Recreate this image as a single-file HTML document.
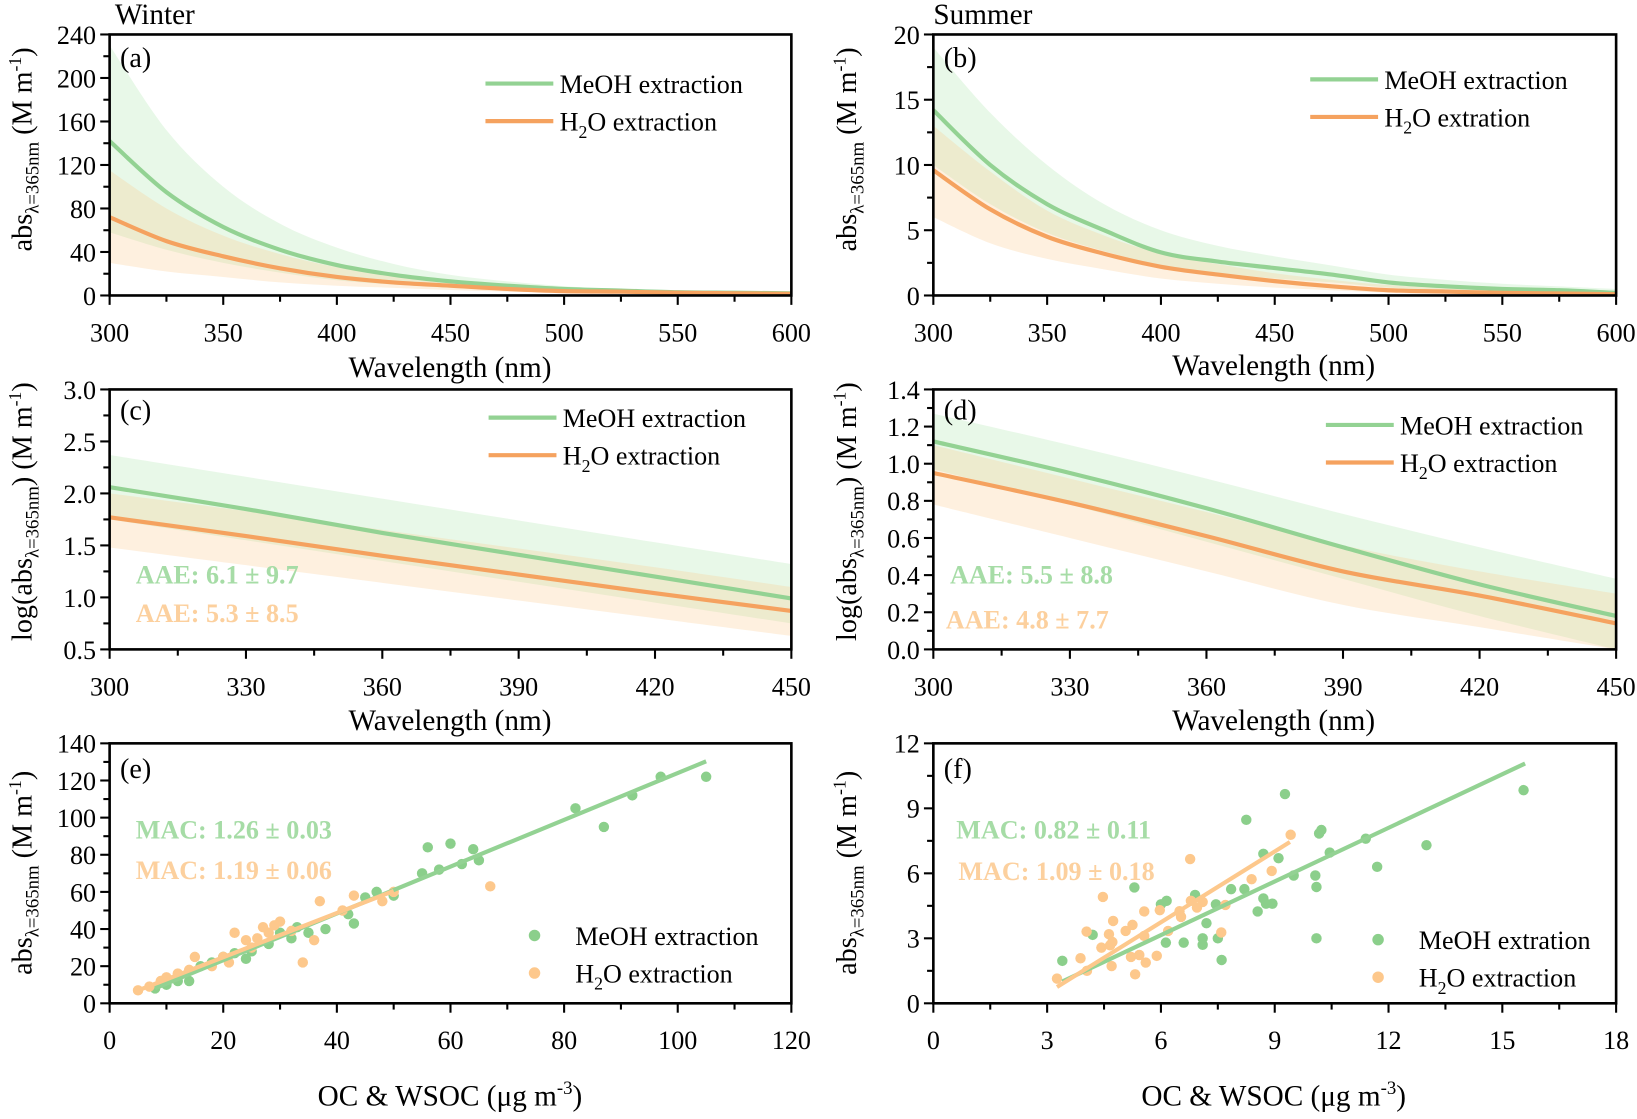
<!DOCTYPE html>
<html><head><meta charset="utf-8">
<style>
html,body{margin:0;padding:0;background:#fff;}
svg, svg text{font-family:"Liberation Serif","Times New Roman",serif;}
</style></head>
<body>
<svg id="fig" width="1637" height="1114" viewBox="0 0 1568 1067" font-family="Liberation Serif, serif" xmlns="http://www.w3.org/2000/svg"></svg>
<script>
// ---- data ----
const wlA = [300,325,350,375,400,425,450,475,500,525,550,575,600];
const aMeoh = [142,95,63,42,28,19,13,9,6,4.5,3,2.5,2];
const aMeohHi = [230,152,100,66,44,29,19,13,8.5,6,4,3,2.5];
const aMeohLo = [58,42,30,21,14,10,7,5,3.5,2.5,2,1.5,1];
const aH2o = [72,50,36,25,17,12,9,6,4,3.5,2.5,2,1.5];
const aH2oHi = [115,80,55,38,26,18,13,9,6,4.5,3.5,3,2.5];
const aH2oLo = [30,22,17,12,9,7,5,3.5,2.5,2,1.5,1,1];

const bMeoh = [14.2,10,7,5,3.3,2.6,2.1,1.6,1.0,0.7,0.5,0.4,0.2];
const bMeohHi = [19,14,10,7,5,3.8,3,2.3,1.6,1.2,0.9,0.7,0.5];
const bMeohLo = [10,7,4.8,3.4,2.3,1.7,1.3,1,0.6,0.4,0.3,0.2,0.1];
const bH2o = [9.6,6.6,4.5,3.2,2.2,1.6,1.1,0.7,0.4,0.3,0.2,0.15,0.1];
const bH2oHi = [13,9.5,6.5,4.6,3.2,2.4,1.7,1.2,0.8,0.6,0.4,0.3,0.2];
const bH2oLo = [6,4,2.8,2,1.3,0.9,0.6,0.4,0.2,0.1,0.05,0,0];

const wlC = [300,330,360,390,420,450];
const cMeoh = [2.06,1.85,1.62,1.41,1.20,0.99];
const cMeohHi = [2.37,2.16,1.95,1.74,1.53,1.32];
const cMeohLo = [1.75,1.55,1.35,1.15,0.95,0.75];
const cH2o = [1.77,1.59,1.40,1.22,1.04,0.87];
const cH2oHi = [2.0,1.83,1.65,1.47,1.29,1.1];
const cH2oLo = [1.48,1.31,1.14,0.97,0.80,0.63];

const dMeoh = [1.12,0.95,0.76,0.55,0.35,0.18];
const dMeohHi = [1.27,1.10,0.92,0.73,0.55,0.38];
const dMeohLo = [0.97,0.78,0.58,0.38,0.18,0.0];
const dH2o = [0.95,0.79,0.61,0.42,0.29,0.14];
const dH2oHi = [1.10,0.92,0.74,0.56,0.42,0.30];
const dH2oLo = [0.78,0.60,0.42,0.24,0.12,0.0];

const eMeohX = [82,87,92,97,105,56,60,64,62,65,58,55,47,45,42,43,50,38,35,32,30,25,24,22,20,18,16,14,12,10,8,28,33];
const eMeohY = [105,95,112,122,122,84,86,83,75,77,72,70,60,57,48,43,58,40,38,35,38,28,24,27,25,22,20,12,12,10,8,32,41];
const eH2oX = [5,7,9,10,12,14,15,18,20,22,24,25,27,28,29,30,32,34,36,37,41,43,48,50,67,26,21];
const eH2oY = [7,9,12,14,16,18,25,20,25,38,34,30,41,38,42,44,39,22,34,55,50,58,55,60,63,35,22];
const eFitMeoh = [8,105]; const eSlopeMeoh = 1.26; const eIntMeoh = -2;
const eFitH2o = [5,50]; const eSlopeH2o = 1.19; const eIntH2o = 1;

const fMeohX = [3.4,4.2,5.3,6.0,6.15,6.13,6.6,6.9,7.1,7.1,7.2,7.45,7.5,7.6,7.85,8.2,8.25,8.55,8.7,8.7,8.77,8.94,9.1,9.27,9.5,10.07,10.1,10.1,10.17,10.23,10.45,11.4,11.7,13.0,15.56];
const fMeohY = [1.96,3.16,5.35,4.57,4.73,2.8,2.8,5.0,3.0,2.7,3.7,4.57,3.0,2.0,5.27,5.27,8.47,4.24,4.84,6.9,4.6,4.6,6.7,9.66,5.9,5.9,5.37,3.0,7.84,8.0,6.96,7.6,6.3,7.3,9.84];
const fH2oX = [3.26,3.88,4.04,4.05,4.43,4.47,4.63,4.66,4.72,4.74,4.7,5.07,5.21,5.25,5.32,5.43,5.56,5.56,5.6,5.89,5.97,6.19,6.49,6.53,6.77,6.79,6.95,7.1,7.59,7.7,8.39,8.92,9.42];
const fH2oY = [1.14,2.08,3.31,1.5,2.57,4.91,3.19,2.68,2.83,3.8,1.72,3.34,2.14,3.62,1.34,2.23,4.24,3.11,1.88,2.19,4.3,3.34,4.25,3.99,6.66,4.73,4.42,4.68,3.27,4.54,5.73,6.11,7.78];
const fFitMeoh = [3.4,15.6]; const fSlopeMeoh = 0.825; const fIntMeoh = -1.8;
const fFitH2o = [3.26,9.4]; const fSlopeH2o = 1.09; const fIntH2o = -2.8;

const ticksA = [0,40,80,120,160,200,240], ticksAx=[300,350,400,450,500,550,600];
const ticksB = [0,5,10,15,20];
const ticksC = [0.5,1.0,1.5,2.0,2.5,3.0], ticksCx=[300,330,360,390,420,450];
const ticksD = [0.0,0.2,0.4,0.6,0.8,1.0,1.2,1.4];
const ticksE = [0,20,40,60,80,100,120,140], ticksEx=[0,20,40,60,80,100,120];
const ticksF = [0,3,6,9,12], ticksFx=[0,3,6,9,12,15,18];

// ---- drawing ----
const NS="http://www.w3.org/2000/svg";
const svg=document.getElementById('fig');
const GL='#93d293', OL='#f5a25f', GS='#8bcf8b', OS='#fdc88c', GT='#a6dca6', OT='#fcd09e';
function mk(tag,attrs,parent){const e=document.createElementNS(NS,tag);for(const k in attrs)e.setAttribute(k,attrs[k]);if(tag==='text')e.setAttribute('font-family','Liberation Serif, serif');(parent||svg).appendChild(e);return e;}
function fmt(v,dec){return dec?v.toFixed(dec):String(v);}

function panel(o){
  const g=mk('g',{});
  
  
  const sx=v=>o.x0+(v-o.xd[0])/(o.xd[1]-o.xd[0])*(o.x1-o.x0);
  const sy=v=>o.y1-(v-o.yd[0])/(o.yd[1]-o.yd[0])*(o.y1-o.y0);
  o.sx=sx;o.sy=sy;o.g=g;
  const clip=mk('clipPath',{id:'c'+o.id},g);
  mk('rect',{x:o.x0,y:o.y0,width:o.x1-o.x0,height:o.y1-o.y0},clip);
  o.plot=mk('g',{'clip-path':'url(#c'+o.id+')'},g);
  const ax=mk('g',{},g);
  
  
  o.xt.forEach((v,i)=>{
    const x=sx(v);
    mk('line',{x1:x,x2:x,y1:o.y1,y2:o.y1+9,stroke:'#000','stroke-width':2},ax);
    const t=mk('text',{x:x,y:o.y1+44,'font-size':25,'text-anchor':'middle'},ax);t.textContent=v;
    
    
    if(i<o.xt.length-1){const xm=sx((v+o.xt[i+1])/2);mk('line',{x1:xm,x2:xm,y1:o.y1,y2:o.y1+6,stroke:'#000','stroke-width':2},ax);}
  });
  const ay=mk('g',{},g);
  
  
  o.yt.forEach((v,i)=>{
    const y=sy(v);
    mk('line',{x1:o.x0,x2:o.x0-9,y1:y,y2:y,stroke:'#000','stroke-width':2},ay);
    const t=mk('text',{x:o.x0-13,y:y+9,'font-size':25,'text-anchor':'end'},ay);t.textContent=fmt(v,o.ydec);
    
    
    if(i<o.yt.length-1){const ym=sy((v+o.yt[i+1])/2);mk('line',{x1:o.x0,x2:o.x0-6,y1:ym,y2:ym,stroke:'#000','stroke-width':2},ay);}
  });
  return o;
}
function frame(o){
  const r=mk('rect',{x:o.x0,y:o.y0,width:o.x1-o.x0,height:o.y1-o.y0,fill:'none',stroke:'#000','stroke-width':2.5},o.g);
  
  
}
function spline(pts,start){
  let d=(start?'M':'L')+pts[0][0]+','+pts[0][1];
  for(let i=0;i<pts.length-1;i++){
    const p0=pts[Math.max(i-1,0)],p1=pts[i],p2=pts[i+1],p3=pts[Math.min(i+2,pts.length-1)];
    const c1=[p1[0]+(p2[0]-p0[0])/6,p1[1]+(p2[1]-p0[1])/6],c2=[p2[0]-(p3[0]-p1[0])/6,p2[1]-(p3[1]-p1[1])/6];
    d+=' C'+c1+' '+c2+' '+p2;
  }
  return d;
}
function band(o,xs,lo,hi,fill,name){
  const top=xs.map((x,i)=>[o.sx(x),o.sy(hi[i])]);
  const bot=xs.map((x,i)=>[o.sx(x),o.sy(lo[i])]).reverse();
  const p=mk('path',{d:spline(top,true)+' '+spline(bot,false)+'Z',fill:fill},o.plot);
  
  
}
function curve(o,xs,ys,color,name){
  const pts=xs.map((x,i)=>[o.sx(x),o.sy(ys[i])]);
  const p=mk('path',{d:spline(pts,true),fill:'none',stroke:color,'stroke-width':4},o.plot);
  
  
}
function dots(o,xs,ys,color,name){
  xs.forEach((x,i)=>{
    const c=mk('circle',{cx:o.sx(x),cy:o.sy(ys[i]),r:5,fill:color},o.plot);
    
    
  });
}
function fit(o,range,slope,inter,color,name){
  const l=mk('line',{x1:o.sx(range[0]),y1:o.sy(slope*range[0]+inter),x2:o.sx(range[1]),y2:o.sy(slope*range[1]+inter),stroke:color,'stroke-width':4},o.plot);
  
  
}
function txt(x,y,size,html,name,extra){
  const t=mk('text',Object.assign({x:x,y:y,'font-size':size},extra||{}));
  t.innerHTML=html;
  
  
  return t;
}
function legLine(x,y,color,label,name){
  const l=mk('line',{x1:x,x2:x+65,y1:y,y2:y,stroke:color,'stroke-width':4});
  
  
  txt(x+71,y+9,25,label,name);
}
function legDot(x,y,color,label,name){
  const c=mk('circle',{cx:x,cy:y,r:5.5,fill:color});
  
  
  txt(x+39,y+9,25,label,name);
}
const H2O='H<tspan font-size="17" dy="7">2</tspan><tspan dy="-7">O</tspan>';
function ytitle(cx,cy,pre,name){
  txt(0,0,27,pre+'abs<tspan font-size="18" dy="7">λ=365nm</tspan><tspan dy="-7">'+(pre?')':'')+' (M m</tspan><tspan font-size="17" dy="-10">-1</tspan><tspan dy="10">)</tspan>',name,{transform:'translate('+cx+','+cy+') rotate(-90)','text-anchor':'middle'});
}

const L=[105,758],R=[894,1548],R1=[33,283],R2=[373,622],R3=[712,961];
let a=panel({id:'a',name:'panel-a-winter-absorption',x0:L[0],x1:L[1],y0:R1[0],y1:R1[1],xd:[300,600],yd:[0,240],xt:ticksAx,yt:ticksA});
band(a,wlA,aMeohLo,aMeohHi,'rgba(150,222,150,0.22)','meoh-band');
band(a,wlA,aH2oLo,aH2oHi,'rgba(250,200,140,0.28)','h2o-band');
curve(a,wlA,aMeoh,GL,'meoh-line');curve(a,wlA,aH2o,OL,'h2o-line');frame(a);
let b=panel({id:'b',name:'panel-b-summer-absorption',x0:R[0],x1:R[1],y0:R1[0],y1:R1[1],xd:[300,600],yd:[0,20],xt:ticksAx,yt:ticksB});
band(b,wlA,bMeohLo,bMeohHi,'rgba(150,222,150,0.22)','meoh-band');
band(b,wlA,bH2oLo,bH2oHi,'rgba(250,200,140,0.28)','h2o-band');
curve(b,wlA,bMeoh,GL,'meoh-line');curve(b,wlA,bH2o,OL,'h2o-line');frame(b);
let c=panel({id:'c',name:'panel-c-winter-log',x0:L[0],x1:L[1],y0:R2[0],y1:R2[1],xd:[300,450],yd:[0.5,3.0],xt:ticksCx,yt:ticksC,ydec:1});
band(c,wlC,cMeohLo,cMeohHi,'rgba(150,222,150,0.22)','meoh-band');
band(c,wlC,cH2oLo,cH2oHi,'rgba(250,200,140,0.28)','h2o-band');
curve(c,wlC,cMeoh,GL,'meoh-line');curve(c,wlC,cH2o,OL,'h2o-line');frame(c);
let d=panel({id:'d',name:'panel-d-summer-log',x0:R[0],x1:R[1],y0:R2[0],y1:R2[1],xd:[300,450],yd:[0,1.4],xt:ticksCx,yt:ticksD,ydec:1});
band(d,wlC,dMeohLo,dMeohHi,'rgba(150,222,150,0.22)','meoh-band');
band(d,wlC,dH2oLo,dH2oHi,'rgba(250,200,140,0.28)','h2o-band');
curve(d,wlC,dMeoh,GL,'meoh-line');curve(d,wlC,dH2o,OL,'h2o-line');frame(d);
let e=panel({id:'e',name:'panel-e-winter-scatter',x0:L[0],x1:L[1],y0:R3[0],y1:R3[1],xd:[0,120],yd:[0,140],xt:ticksEx,yt:ticksE});
dots(e,eMeohX,eMeohY,GS,'meoh-point');dots(e,eH2oX,eH2oY,OS,'h2o-point');
fit(e,eFitMeoh,eSlopeMeoh,eIntMeoh,GL,'meoh-fit');fit(e,eFitH2o,eSlopeH2o,eIntH2o,OS,'h2o-fit');frame(e);
let f=panel({id:'f',name:'panel-f-summer-scatter',x0:R[0],x1:R[1],y0:R3[0],y1:R3[1],xd:[0,18],yd:[0,12],xt:ticksFx,yt:ticksF});
dots(f,fMeohX,fMeohY,GS,'meoh-point');dots(f,fH2oX,fH2oY,OS,'h2o-point');
fit(f,fFitMeoh,fSlopeMeoh,fIntMeoh,GL,'meoh-fit');fit(f,fFitH2o,fSlopeH2o,fIntH2o,OS,'h2o-fit');frame(f);

txt(110,23,28,'Winter','winter-title');
txt(894,23,28,'Summer','summer-title');
[['(a)',115,64],['(b)',904,64],['(c)',115,402],['(d)',904,402],['(e)',115,745],['(f)',904,745]].forEach(p=>txt(p[1],p[2],27,p[0],'panel-label'));
legLine(465,80,GL,'MeOH extraction','legend-meoh');legLine(465,116,OL,H2O+' extraction','legend-h2o');
legLine(1255,76,GL,'MeOH extraction','legend-meoh');legLine(1255,112,OL,H2O+' extration','legend-h2o');
legLine(468,400,GL,'MeOH extraction','legend-meoh');legLine(468,436,OL,H2O+' extraction','legend-h2o');
legLine(1270,407,GL,'MeOH extraction','legend-meoh');legLine(1270,443,OL,H2O+' extraction','legend-h2o');
legDot(512,896,GS,'MeOH extraction','legend-meoh');legDot(512,932,OS,H2O+' extraction','legend-h2o');
legDot(1320,900,GS,'MeOH extration','legend-meoh');legDot(1320,936,OS,H2O+' extraction','legend-h2o');
txt(130,559,25,'AAE: 6.1 ± 9.7','aae-meoh',{fill:GT,'font-weight':'bold'});
txt(130,596,25,'AAE: 5.3 ± 8.5','aae-h2o',{fill:OT,'font-weight':'bold'});
txt(910,559,25,'AAE: 5.5 ± 8.8','aae-meoh',{fill:GT,'font-weight':'bold'});
txt(906,602,25,'AAE: 4.8 ± 7.7','aae-h2o',{fill:OT,'font-weight':'bold'});
txt(130,803,25,'MAC: 1.26 ± 0.03','mac-meoh',{fill:GT,'font-weight':'bold'});
txt(130,842,25,'MAC: 1.19 ± 0.06','mac-h2o',{fill:OT,'font-weight':'bold'});
txt(916,803,25,'MAC: 0.82 ± 0.11','mac-meoh',{fill:GT,'font-weight':'bold'});
txt(918,843,25,'MAC: 1.09 ± 0.18','mac-h2o',{fill:OT,'font-weight':'bold'});
[[431,361],[1220,359],[431,699],[1220,699]].forEach(p=>txt(p[0],p[1],28,'Wavelength (nm)','x-axis-title',{'text-anchor':'middle'}));
txt(431,1059,28,'OC &amp; WSOC (μg m<tspan font-size="18" dy="-11">-3</tspan><tspan dy="11">)</tspan>','x-axis-title',{'text-anchor':'middle'});
txt(1220,1059,28,'OC &amp; WSOC (μg m<tspan font-size="18" dy="-11">-3</tspan><tspan dy="11">)</tspan>','x-axis-title',{'text-anchor':'middle'});
ytitle(30,143,'','y-axis-title');ytitle(820,143,'','y-axis-title');
ytitle(30,490,'log(','y-axis-title');ytitle(820,490,'log(','y-axis-title');
ytitle(30,836,'','y-axis-title');ytitle(820,836,'','y-axis-title');
</script>
</body></html>
